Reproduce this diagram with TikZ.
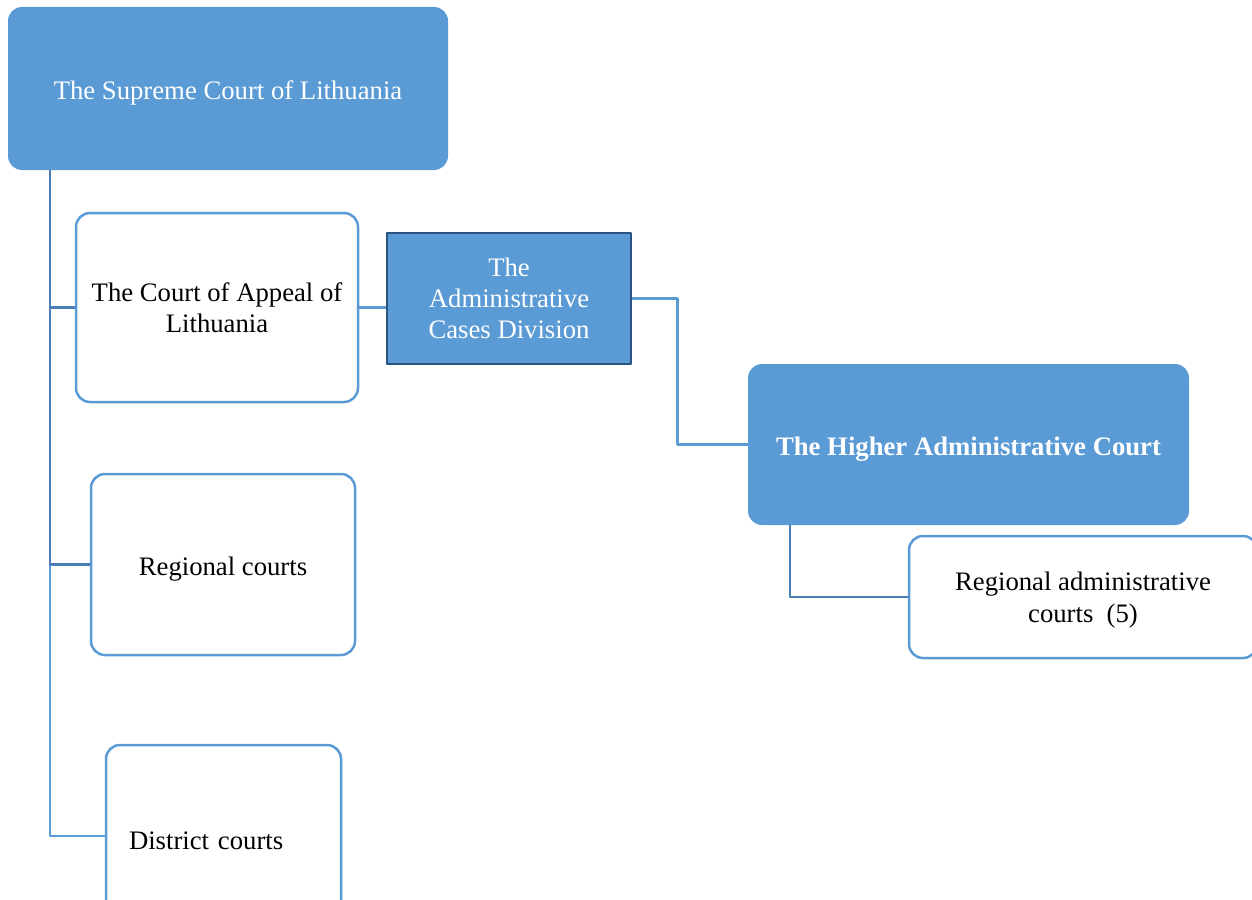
\documentclass[tikz,border=0pt]{standalone}
\usepackage{fontspec}
\setmainfont{Liberation Serif}
\usepackage{tikz}
\usetikzlibrary{positioning}

\definecolor{officeblue}{HTML}{5B9BD5}
\definecolor{linkdark}{HTML}{4A7DB4}
\definecolor{edgedark}{HTML}{2A5580}

\begin{document}
\begin{tikzpicture}[x=1pt, y=-1pt, line join=round,
  font=\fontsize{26.7}{31}\selectfont,
  court/.style={draw=officeblue, line width=2.5pt, fill=white, rounded corners=14pt,
    align=center, inner sep=0pt},
  topcourt/.style={fill=officeblue, text=white, rounded corners=14pt,
    align=center, inner sep=0pt},
  division/.style={draw=edgedark, line width=2.5pt, fill=officeblue, text=white,
    align=center, inner sep=0pt},
  oneline/.style={text height=22pt, text depth=0pt},
  trunkline/.style={draw=linkdark, line width=2.7pt},
  linkline/.style={draw=officeblue, line width=2.7pt}]
  \useasboundingbox (0,0) rectangle (1252,899);
  % boxes
  \node[topcourt, oneline, minimum width=440pt, minimum height=163pt] (supreme) at (228,88.5)
    {The Supreme Court of Lithuania};
  \node[court, minimum width=282pt, minimum height=189pt] (appeal) at (217,307.5)
    {The Court of Appeal of\\Lithuania};
  \node[division, text depth=0pt, minimum width=244pt, minimum height=131pt] (div) at (509,298.5)
    {The\\Administrative\\Cases Division};
  \node[topcourt, oneline, minimum width=441pt, minimum height=161pt,
    font=\fontsize{26.7}{31}\selectfont\bfseries] (higher) at (968.5,444.5)
    {The Higher Administrative Court};
  \node[court, text depth=0pt, minimum width=348pt, minimum height=122pt] (radmin) at (1083,597)
    {Regional administrative\\[1pt]courts~~(5)};
  \node[court, oneline, minimum width=264pt, minimum height=181pt] (regional) at (223,564.5)
    {Regional courts};
  \node[court, text height=28pt, minimum height=182pt, text width=189pt, inner xsep=23pt,
    align=left] (district) at (223.5,836) {District courts};
  % connectors
  \coordinate (trunk) at (50,170);
  \coordinate (hbase) at (790,525);
  \draw[trunkline] (trunk) -- (trunk |- regional.west);
  \draw[trunkline] (trunk |- appeal.west) -- (appeal.west);
  \draw[trunkline] (trunk |- regional.west) -- (regional.west);
  \draw[linkline] (trunk |- regional.west) -- (trunk |- district.west) -- (district.west);
  \draw[linkline] (appeal.east) -- (appeal.east -| div.west);
  \draw[linkline] (div.east) -- ++(45,0) |- (higher.west);
  \draw[trunkline] (hbase) |- (radmin.west);
\end{tikzpicture}
\end{document}
